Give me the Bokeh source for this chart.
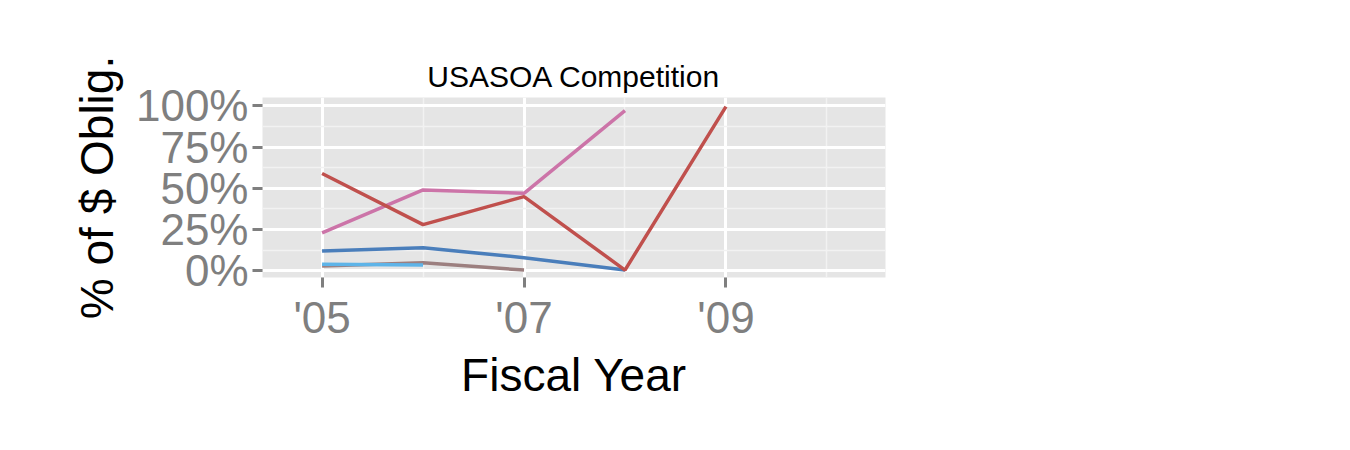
from bokeh.plotting import figure
from bokeh.models import FixedTicker, Legend, LegendItem, Range1d
from bokeh.embed import file_html
from bokeh.resources import INLINE

# data
unl_years = [2005, 2006, 2007]
unl_vals = [3, 5, 0.5]
three_years = [2005, 2006, 2007, 2008]
three_vals = [12, 14, 8, 0.5]
two_years = [2005, 2006]
two_vals = [4, 3.5]
one_years = [2005, 2006, 2007, 2008]
one_vals = [23, 49, 47, 97]
none_years = [2005, 2006, 2007, 2008, 2009]
none_vals = [59, 28, 45, 0.5, 99.5]

series = [
    ("Unlabeled", unl_years, unl_vals, "#9C7F7F"),
    ("3+ Offers", three_years, three_vals, "#4A7EBB"),
    ("2 Offers", two_years, two_vals, "#5EB4E8"),
    ("1 Offer", one_years, one_vals, "#CC74A8"),
    ("No Comp.", none_years, none_vals, "#C0504D"),
]

x_ticks = [2005, 2007, 2009]
x_labels = {2005: "'05", 2007: "'07", 2009: "'09"}
y_ticks = [0, 25, 50, 75, 100]
y_labels = {0: "0%", 25: "25%", 50: "50%", 75: "75%", 100: "100%"}

FONT = "Liberation Sans"

p = figure(width=1334, height=434, output_backend="svg", toolbar_location=None,
           x_range=Range1d(2004.41, 2010.58), y_range=Range1d(-4, 105),
           min_border_left=262, min_border_right=449, min_border_top=97,
           min_border_bottom=157)

p.title.text = "USASOA Competition"
p.title.align = "center"
p.title.text_font = FONT
p.title.text_font_size = "30px"
p.title.text_font_style = "normal"
p.title.text_color = "black"

p.background_fill_color = "#E5E5E5"
p.outline_line_color = None
for g in (p.xgrid, p.ygrid):
    g.grid_line_color = "white"
    g.grid_line_width = 3
    g.minor_grid_line_color = "#F2F2F2"
    g.minor_grid_line_width = 1.5

p.xaxis.ticker = FixedTicker(ticks=x_ticks, minor_ticks=[2006, 2008, 2010])
p.xaxis.major_label_overrides = x_labels
p.yaxis.ticker = FixedTicker(ticks=y_ticks, minor_ticks=[12.5, 37.5, 62.5, 87.5])
p.yaxis.major_label_overrides = y_labels

p.xaxis.axis_label = "Fiscal Year"
p.yaxis.axis_label = "% of $ Oblig."
for ax in (p.xaxis, p.yaxis):
    ax.axis_line_color = None
    ax.major_tick_line_color = "#7F7F7F"
    ax.major_tick_line_width = 3
    ax.major_tick_out = 10
    ax.major_tick_in = 0
    ax.minor_tick_line_color = None
    ax.major_label_text_font = FONT
    ax.major_label_text_font_size = "44px"
    ax.major_label_text_color = "#7F7F7F"
    ax.axis_label_text_font = FONT
    ax.axis_label_text_font_size = "46px"
    ax.axis_label_text_font_style = "normal"
    ax.axis_label_text_color = "black"
p.yaxis.major_label_standoff = 4
p.xaxis.axis_label_standoff = 4
p.yaxis.axis_label_standoff = 10

items = []
for name, xs, ys, col in series:
    r = p.line(xs, ys, line_color=col, line_width=3.5)
    items.append(LegendItem(label=name, renderers=[r]))

legend = Legend(items=items, location=(675, -85), title="Competition")
legend.title_text_font = FONT
legend.title_text_font_size = "38px"
legend.title_text_font_style = "bold"
legend.title_text_color = "black"
legend.label_text_font = FONT
legend.label_text_font_size = "38px"
legend.label_text_color = "black"
legend.glyph_width = 56
legend.glyph_height = 60
legend.spacing = 0
legend.padding = 0
legend.margin = 0
legend.border_line_color = None
legend.background_fill_alpha = 0
legend.label_standoff = 10
p.add_layout(legend, "center")

open("out.html", "w").write(file_html(p, INLINE))
